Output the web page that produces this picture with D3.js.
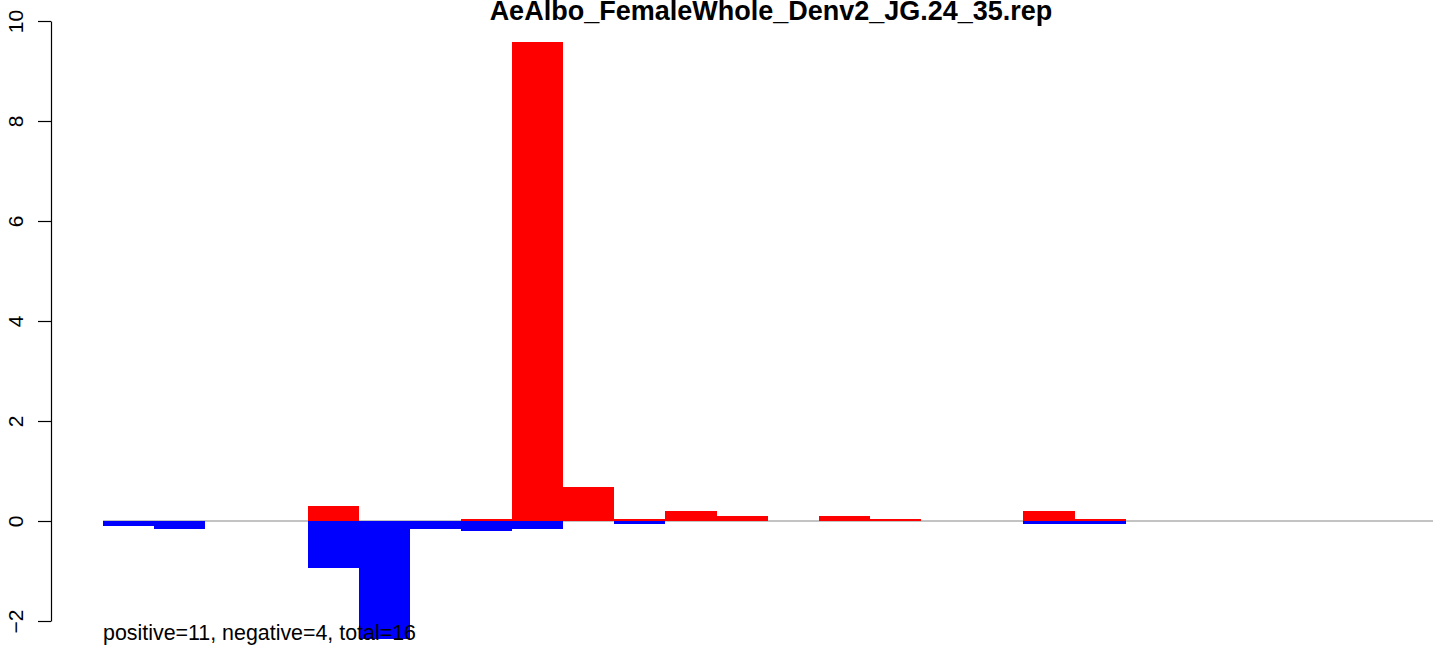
<!DOCTYPE html>
<html>
<head>
<meta charset="utf-8">
<script src="https://cdn.jsdelivr.net/npm/d3@7"></script>
<style>
  html, body { margin: 0; padding: 0; background: #fff; }
  svg { display: block; }
  text { font-family: "Liberation Sans", Arial, sans-serif; }
</style>
</head>
<body>
<svg id="chart" width="1444" height="655"></svg>
<script>
// ---- data ----
const titleText = "AeAlbo_FemaleWhole_Denv2_JG.24_35.rep";
const footerText = "positive=11, negative=4, total=16";
const categories = d3.range(1, 27).map(String);
const positiveValues = [0, 0, 0, 0, 0.30, 0, 0, 0.04, 9.58, 0.68, 0.04, 0.20, 0.10, 0, 0.10, 0.04, 0, 0, 0.20, 0.04, 0, 0, 0, 0, 0, 0];
const negativeValues = [-0.10, -0.16, 0, 0, -0.94, -2.36, -0.16, -0.20, -0.16, 0, -0.06, 0, 0, 0, 0, 0, 0, 0, -0.06, -0.06, 0, 0, 0, 0, 0, 0];
const yTicks = [-2, 0, 2, 4, 6, 8, 10];

// ---- layout ----
const svg = d3.select("#chart");
const x = d3.scaleBand().domain(categories).range([103, 1432.5]).padding(0);
const y = d3.scaleLinear().domain([-2, 10]).range([621, 21]);

// zero reference line
svg.append("line")
  .attr("x1", x.range()[0]).attr("x2", x.range()[1] + 0.5)
  .attr("y1", y(0)).attr("y2", y(0))
  .attr("stroke", "#888").attr("stroke-width", 1.2);

function drawBars(vals, color) {
  svg.append("g").selectAll("rect")
    .data(categories.map((c, i) => ({ c, v: vals[i] })).filter(d => d.v !== 0))
    .join("rect")
    .attr("x", d => x(d.c))
    .attr("width", x.bandwidth())
    .attr("y", d => Math.min(y(d.v), y(0)))
    .attr("height", d => Math.abs(y(d.v) - y(0)))
    .attr("fill", color)
    .attr("shape-rendering", "crispEdges");
}
drawBars(positiveValues, "#ff0000");
drawBars(negativeValues, "#0000ff");

// y axis
const axis = d3.axisLeft(y).tickValues(yTicks).tickSize(13).tickSizeOuter(0).tickFormat(d3.format("d"));
const gAxis = svg.append("g").attr("transform", "translate(51,0)").call(axis);
gAxis.select(".domain").attr("stroke", "#000").attr("stroke-width", 1.2);
gAxis.selectAll(".tick line").attr("stroke", "#000").attr("stroke-width", 1.2);
gAxis.selectAll(".tick text")
  .attr("x", null).attr("dy", null)
  .attr("transform", "translate(-28,0) rotate(-90)")
  .attr("text-anchor", "middle")
  .attr("fill", "#000")
  .style("font-size", "21px")
  .style("font-family", "'Liberation Sans', Arial, sans-serif");

// title
svg.append("text")
  .attr("x", 771).attr("y", 20)
  .attr("text-anchor", "middle")
  .style("font-size", "27px").style("font-weight", "bold")
  .text(titleText);

// footer text
svg.append("text")
  .attr("x", 103).attr("y", 640)
  .style("font-size", "21.4px")
  .attr("fill", "#000")
  .text(footerText);
</script>
</body>
</html>
